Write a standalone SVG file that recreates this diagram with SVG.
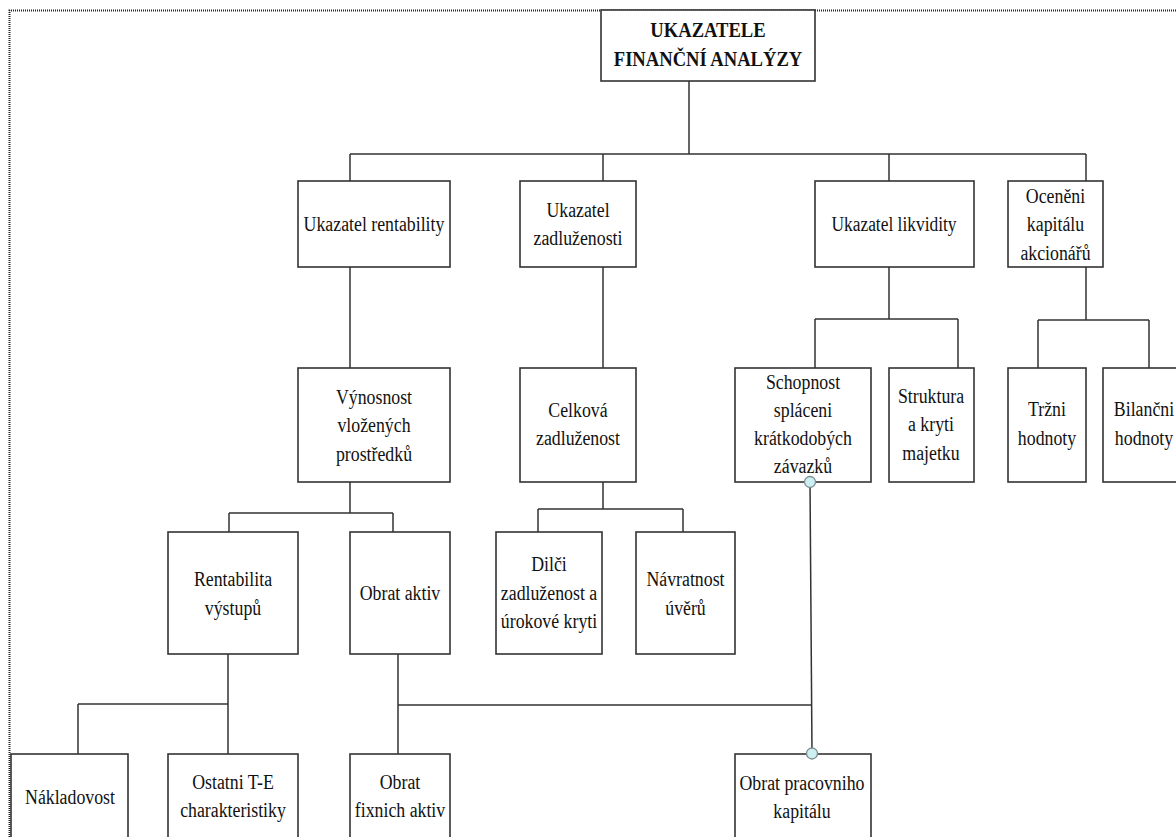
<svg xmlns="http://www.w3.org/2000/svg" width="1176" height="837" viewBox="0 0 1176 837">
<style>
.box{fill:#fff;stroke:#333;stroke-width:1.6}
.t{font-family:"Liberation Serif","Times New Roman",serif;font-size:20px;fill:#111;text-anchor:middle}
.b{font-weight:bold}
.c{fill:none;stroke:#333;stroke-width:1.5}
.dot{fill:#cdeef2;stroke:#7d8c8e;stroke-width:1.3}
.border{fill:none;stroke:#222;stroke-width:2;stroke-dasharray:1 1}
</style>
<rect width="1176" height="837" fill="#fff"/>
<path class="border" d="M9.5 837 V10.5 H1176"/>
<g id="connectors">
<path class="c" d="M689 81 V154 M350 154 H1086 M350 154 V181 M603 154 V181 M889 154 V181 M1086 154 V181"/>
<path class="c" d="M350 267 V368 M603 267 V368"/>
<path class="c" d="M889 267 V319 M815 319 H958 M815 319 V368 M958 319 V368"/>
<path class="c" d="M1086 267 V320 M1038 320 H1149 M1038 320 V368 M1149 320 V368"/>
<path class="c" d="M350 482 V513 M229 513 H393 M229 513 V532 M393 513 V532"/>
<path class="c" d="M603 482 V509 M538 509 H683 M538 509 V532 M683 509 V532"/>
<path class="c" d="M228 654 V754 M78 704 H228 M78 704 V754"/>
<path class="c" d="M398 654 V754 M398 705 H811"/>
<path class="c" d="M810 482 L812 754"/>
</g>
<g id="n-root"><rect class="box" x="601" y="10" width="214" height="71"/>
<text class="t b" transform="translate(708 0) scale(0.93 1)" y="37.5">UKAZATELE</text>
<text class="t b" transform="translate(708 0) scale(0.93 1)" y="66">FINANČNÍ ANALÝZY</text></g>
<g id="n-rentability"><rect class="box" x="298" y="181" width="152" height="86"/>
<text class="t" transform="translate(374 0) scale(0.89 1)" y="231">Ukazatel rentability</text></g>
<g id="n-zadluzenosti"><rect class="box" x="520" y="181" width="116" height="86"/>
<text class="t" transform="translate(578 0) scale(0.89 1)" y="217">Ukazatel</text>
<text class="t" transform="translate(578 0) scale(0.89 1)" y="245.5">zadluženosti</text></g>
<g id="n-likvidity"><rect class="box" x="815" y="181" width="159" height="86"/>
<text class="t" transform="translate(894 0) scale(0.87 1)" y="231.5">Ukazatel likvidity</text></g>
<g id="n-oceneni"><rect class="box" x="1008" y="181" width="95" height="86"/>
<text class="t" transform="translate(1055.5 0) scale(0.89 1)" y="203">Oceněni</text>
<text class="t" transform="translate(1055.5 0) scale(0.89 1)" y="231.5">kapitálu</text>
<text class="t" transform="translate(1055.5 0) scale(0.89 1)" y="260">akcionářů</text></g>
<g id="n-vynosnost"><rect class="box" x="298" y="368" width="152" height="114"/>
<text class="t" transform="translate(374 0) scale(0.89 1)" y="404">Výnosnost</text>
<text class="t" transform="translate(374 0) scale(0.89 1)" y="432">vložených</text>
<text class="t" transform="translate(374 0) scale(0.89 1)" y="461">prostředků</text></g>
<g id="n-celkova"><rect class="box" x="520" y="368" width="116" height="114"/>
<text class="t" transform="translate(578 0) scale(0.89 1)" y="417">Celková</text>
<text class="t" transform="translate(578 0) scale(0.89 1)" y="445.5">zadluženost</text></g>
<g id="n-schopnost"><rect class="box" x="735" y="368" width="136" height="114"/>
<text class="t" transform="translate(803 0) scale(0.89 1)" y="389">Schopnost</text>
<text class="t" transform="translate(803 0) scale(0.89 1)" y="417">spláceni</text>
<text class="t" transform="translate(803 0) scale(0.89 1)" y="445">krátkodobých</text>
<text class="t" transform="translate(803 0) scale(0.89 1)" y="473">závazků</text></g>
<g id="n-struktura"><rect class="box" x="889" y="368" width="85" height="114"/>
<text class="t" transform="translate(931 0) scale(0.89 1)" y="403">Struktura</text>
<text class="t" transform="translate(931 0) scale(0.89 1)" y="431.5">a kryti</text>
<text class="t" transform="translate(931 0) scale(0.89 1)" y="460">majetku</text></g>
<g id="n-trzni"><rect class="box" x="1008" y="368" width="78" height="114"/>
<text class="t" transform="translate(1047 0) scale(0.89 1)" y="416.5">Tržni</text>
<text class="t" transform="translate(1047 0) scale(0.89 1)" y="445.5">hodnoty</text></g>
<g id="n-bilancni"><rect class="box" x="1103" y="368" width="85" height="114"/>
<text class="t" transform="translate(1144 0) scale(0.89 1)" y="416.5">Bilančni</text>
<text class="t" transform="translate(1144 0) scale(0.89 1)" y="445.5">hodnoty</text></g>
<g id="n-rentabilita-vystupu"><rect class="box" x="168" y="532" width="130" height="122"/>
<text class="t" transform="translate(233 0) scale(0.89 1)" y="586.5">Rentabilita</text>
<text class="t" transform="translate(233 0) scale(0.89 1)" y="615">výstupů</text></g>
<g id="n-obrat-aktiv"><rect class="box" x="350" y="532" width="100" height="122"/>
<text class="t" transform="translate(400 0) scale(0.89 1)" y="600">Obrat aktiv</text></g>
<g id="n-dilci"><rect class="box" x="496" y="532" width="106" height="122"/>
<text class="t" transform="translate(549 0) scale(0.89 1)" y="571">Dilči</text>
<text class="t" transform="translate(549 0) scale(0.89 1)" y="600">zadluženost a</text>
<text class="t" transform="translate(549 0) scale(0.89 1)" y="628">úrokové kryti</text></g>
<g id="n-navratnost"><rect class="box" x="636" y="532" width="99" height="122"/>
<text class="t" transform="translate(685.5 0) scale(0.89 1)" y="586.5">Návratnost</text>
<text class="t" transform="translate(685.5 0) scale(0.89 1)" y="615">úvěrů</text></g>
<g id="n-nakladovost"><rect class="box" x="11" y="754" width="117" height="100"/>
<text class="t" transform="translate(70 0) scale(0.89 1)" y="804">Nákladovost</text></g>
<g id="n-ostatni"><rect class="box" x="168" y="754" width="130" height="100"/>
<text class="t" transform="translate(233 0) scale(0.89 1)" y="789">Ostatni T-E</text>
<text class="t" transform="translate(233 0) scale(0.89 1)" y="817">charakteristiky</text></g>
<g id="n-obrat-fixnich"><rect class="box" x="350" y="754" width="100" height="100"/>
<text class="t" transform="translate(400 0) scale(0.89 1)" y="789">Obrat</text>
<text class="t" transform="translate(400 0) scale(0.89 1)" y="817">fixnich aktiv</text></g>
<g id="n-obrat-pracovniho"><rect class="box" x="735" y="754" width="136" height="100"/>
<text class="t" transform="translate(802 0) scale(0.89 1)" y="790">Obrat pracovniho</text>
<text class="t" transform="translate(802 0) scale(0.89 1)" y="818">kapitálu</text></g>
<g id="handles">
<circle class="dot" cx="810" cy="482" r="5.5"/>
<circle class="dot" cx="812" cy="753.5" r="5.5"/>
</g>
</svg>
